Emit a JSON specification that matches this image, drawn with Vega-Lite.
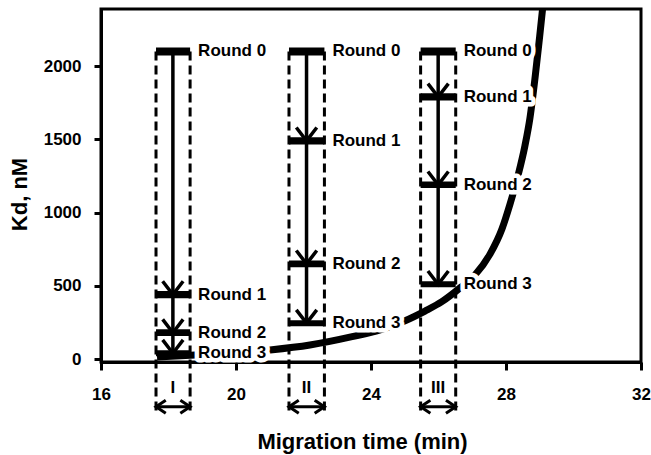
{
  "$schema": "https://vega.github.io/schema/vega-lite/v6.json",
  "width": 540,
  "height": 353,
  "autosize": {"type": "none"},
  "padding": {"left": 101, "top": 9, "right": 10, "bottom": 93},
  "config": {
    "font": "Liberation Sans",
    "view": {"stroke": "black", "strokeWidth": 3},
    "axis": {
      "grid": false,
      "domainColor": "black",
      "domainWidth": 3,
      "tickColor": "black",
      "tickWidth": 3,
      "labelColor": "black",
      "labelFontSize": 17,
      "labelFontWeight": "bold",
      "titleColor": "black",
      "titleFontSize": 22,
      "titleFontWeight": "bold",
      "labelFlush": false,
      "labelOverlap": false
    }
  },
  "datasets": {
    "curve": [
      {"t": 17.66, "kd": 14},
      {"t": 18.79, "kd": 28},
      {"t": 19.82, "kd": 38},
      {"t": 21.01, "kd": 62},
      {"t": 22.19, "kd": 96},
      {"t": 23.44, "kd": 153},
      {"t": 24.27, "kd": 199},
      {"t": 25.01, "kd": 262},
      {"t": 25.60, "kd": 328},
      {"t": 26.10, "kd": 392},
      {"t": 26.67, "kd": 492},
      {"t": 27.08, "kd": 574},
      {"t": 27.53, "kd": 718},
      {"t": 27.88, "kd": 888},
      {"t": 28.12, "kd": 1059},
      {"t": 28.36, "kd": 1257},
      {"t": 28.56, "kd": 1455},
      {"t": 28.71, "kd": 1646},
      {"t": 28.86, "kd": 1919},
      {"t": 28.98, "kd": 2165},
      {"t": 29.08, "kd": 2383},
      {"t": 29.13, "kd": 2506}
    ],
    "windows": [
      {"group": "I", "start": 17.63, "end": 18.64, "mid": 18.13},
      {"group": "II", "start": 21.57, "end": 22.62, "mid": 22.09},
      {"group": "III", "start": 25.47, "end": 26.51, "mid": 25.99}
    ],
    "rounds": [
      {"group": "I", "round": "Round 0", "kd": 2100},
      {"group": "I", "round": "Round 1", "kd": 440},
      {"group": "I", "round": "Round 2", "kd": 180},
      {"group": "I", "round": "Round 3", "kd": 40},
      {"group": "II", "round": "Round 0", "kd": 2100},
      {"group": "II", "round": "Round 1", "kd": 1490},
      {"group": "II", "round": "Round 2", "kd": 650},
      {"group": "II", "round": "Round 3", "kd": 245},
      {"group": "III", "round": "Round 0", "kd": 2100},
      {"group": "III", "round": "Round 1", "kd": 1790},
      {"group": "III", "round": "Round 2", "kd": 1190},
      {"group": "III", "round": "Round 3", "kd": 510}
    ]
  },
  "layer": [
    {
      "data": {"name": "curve"},
      "mark": {"type": "line", "clip": true, "color": "black", "strokeWidth": 7, "interpolate": "monotone", "strokeCap": "butt"},
      "encoding": {
        "x": {"field": "t", "type": "quantitative", "title": "Migration time (min)",
          "scale": {"domain": [16, 32], "nice": false, "zero": false},
          "axis": {"values": [16, 20, 24, 28, 32], "format": "d", "tickSize": 8, "labelPadding": 16, "titlePadding": 29, "titleX": 261}},
        "y": {"field": "kd", "type": "quantitative", "title": "Kd, nM",
          "scale": {"domain": [-20, 2390], "nice": false, "zero": false},
          "axis": {"values": [0, 500, 1000, 1500, 2000], "format": "d", "tickSize": 7, "labelPadding": 13, "titlePadding": 12, "titleY": 185}}
      }
    },
    {
      "data": {"name": "rounds"},
      "transform": [
        {"lookup": "group", "from": {"data": {"name": "windows"}, "key": "group", "fields": ["start", "end", "mid"]}}
      ],
      "mark": {"type": "text", "align": "left", "baseline": "middle", "dx": 8, "fontSize": 17, "fontWeight": "bold", "color": "white", "fill": "white", "stroke": "white", "strokeWidth": 9, "strokeJoin": "round"},
      "encoding": {
        "x": {"field": "end", "type": "quantitative", "title": "Migration time (min)", "scale": {"domain": [16, 32], "nice": false, "zero": false}},
        "y": {"field": "kd", "type": "quantitative", "title": "Kd, nM", "scale": {"domain": [-20, 2390], "nice": false, "zero": false}},
        "text": {"field": "round"}
      }
    },
    {
      "data": {"name": "rounds"},
      "transform": [
        {"filter": "datum.round == 'Round 0'"},
        {"lookup": "group", "from": {"data": {"name": "windows"}, "key": "group", "fields": ["start", "end", "mid"]}},
        {"fold": ["start", "end"], "as": ["side", "edge"]}
      ],
      "mark": {"type": "rule", "color": "black", "strokeWidth": 3, "strokeDash": [9, 5]},
      "encoding": {
        "x": {"field": "edge", "type": "quantitative", "title": "Migration time (min)", "scale": {"domain": [16, 32], "nice": false, "zero": false}},
        "y": {"field": "kd", "type": "quantitative", "title": "Kd, nM", "scale": {"domain": [-20, 2390], "nice": false, "zero": false}},
        "y2": {"datum": -381}
      }
    },
    {
      "data": {"name": "rounds"},
      "transform": [
        {"lookup": "group", "from": {"data": {"name": "windows"}, "key": "group", "fields": ["start", "end", "mid"]}},
        {"aggregate": [{"op": "max", "field": "kd", "as": "top"}, {"op": "min", "field": "kd", "as": "bottom"}], "groupby": ["group", "mid"]}
      ],
      "mark": {"type": "rule", "color": "black", "strokeWidth": 3.5},
      "encoding": {
        "x": {"field": "mid", "type": "quantitative", "title": "Migration time (min)", "scale": {"domain": [16, 32], "nice": false, "zero": false}},
        "y": {"field": "top", "type": "quantitative", "title": "Kd, nM", "scale": {"domain": [-20, 2390], "nice": false, "zero": false}},
        "y2": {"field": "bottom"}
      }
    },
    {
      "data": {"name": "rounds"},
      "transform": [
        {"lookup": "group", "from": {"data": {"name": "windows"}, "key": "group", "fields": ["start", "end", "mid"]}}
      ],
      "mark": {"type": "rule", "color": "black", "strokeCap": "butt"},
      "encoding": {
        "x": {"field": "start", "type": "quantitative", "title": "Migration time (min)", "scale": {"domain": [16, 32], "nice": false, "zero": false}},
        "x2": {"field": "end"},
        "y": {"field": "kd", "type": "quantitative", "title": "Kd, nM", "scale": {"domain": [-20, 2390], "nice": false, "zero": false}},
        "strokeWidth": {"field": "round", "type": "ordinal", "scale": {"domain": ["Round 0", "Round 1", "Round 2", "Round 3"], "range": [8, 6, 5, 5]}, "legend": null}
      }
    },
    {
      "data": {"name": "rounds"},
      "transform": [
        {"filter": "datum.round != 'Round 0'"},
        {"lookup": "group", "from": {"data": {"name": "windows"}, "key": "group", "fields": ["start", "end", "mid"]}}
      ],
      "mark": {"type": "point", "shape": "M-1,-1.3L0,0L1,-1.3", "size": 420, "filled": false, "color": "black", "strokeWidth": 3.5, "opacity": 1},
      "encoding": {
        "x": {"field": "mid", "type": "quantitative", "title": "Migration time (min)", "scale": {"domain": [16, 32], "nice": false, "zero": false}},
        "y": {"field": "kd", "type": "quantitative", "title": "Kd, nM", "scale": {"domain": [-20, 2390], "nice": false, "zero": false}}
      }
    },
    {
      "data": {"name": "rounds"},
      "transform": [
        {"lookup": "group", "from": {"data": {"name": "windows"}, "key": "group", "fields": ["start", "end", "mid"]}}
      ],
      "mark": {"type": "text", "align": "left", "baseline": "middle", "dx": 8, "fontSize": 17, "fontWeight": "bold", "color": "black"},
      "encoding": {
        "x": {"field": "end", "type": "quantitative", "title": "Migration time (min)", "scale": {"domain": [16, 32], "nice": false, "zero": false}},
        "y": {"field": "kd", "type": "quantitative", "title": "Kd, nM", "scale": {"domain": [-20, 2390], "nice": false, "zero": false}},
        "text": {"field": "round"}
      }
    },
    {
      "data": {"name": "windows"},
      "mark": {"type": "text", "align": "center", "baseline": "middle", "fontSize": 17, "fontWeight": "bold", "color": "black"},
      "encoding": {
        "x": {"field": "mid", "type": "quantitative", "title": "Migration time (min)", "scale": {"domain": [16, 32], "nice": false, "zero": false}},
        "y": {"datum": -200, "type": "quantitative", "title": "Kd, nM", "scale": {"domain": [-20, 2390], "nice": false, "zero": false}},
        "text": {"field": "group"}
      }
    },
    {
      "data": {"name": "windows"},
      "mark": {"type": "rule", "color": "black", "strokeWidth": 3},
      "encoding": {
        "x": {"field": "start", "type": "quantitative", "title": "Migration time (min)", "scale": {"domain": [16, 32], "nice": false, "zero": false}},
        "x2": {"field": "end"},
        "y": {"datum": -325, "type": "quantitative", "title": "Kd, nM", "scale": {"domain": [-20, 2390], "nice": false, "zero": false}}
      }
    },
    {
      "data": {"name": "windows"},
      "mark": {"type": "point", "shape": "M1.5,-1L0,0L1.5,1", "size": 169, "filled": false, "color": "black", "strokeWidth": 3, "opacity": 1},
      "encoding": {
        "x": {"field": "start", "type": "quantitative", "title": "Migration time (min)", "scale": {"domain": [16, 32], "nice": false, "zero": false}},
        "y": {"datum": -325, "type": "quantitative", "title": "Kd, nM", "scale": {"domain": [-20, 2390], "nice": false, "zero": false}}
      }
    },
    {
      "data": {"name": "windows"},
      "mark": {"type": "point", "shape": "M-1.5,-1L0,0L-1.5,1", "size": 169, "filled": false, "color": "black", "strokeWidth": 3, "opacity": 1},
      "encoding": {
        "x": {"field": "end", "type": "quantitative", "title": "Migration time (min)", "scale": {"domain": [16, 32], "nice": false, "zero": false}},
        "y": {"datum": -325, "type": "quantitative", "title": "Kd, nM", "scale": {"domain": [-20, 2390], "nice": false, "zero": false}}
      }
    }
  ]
}
